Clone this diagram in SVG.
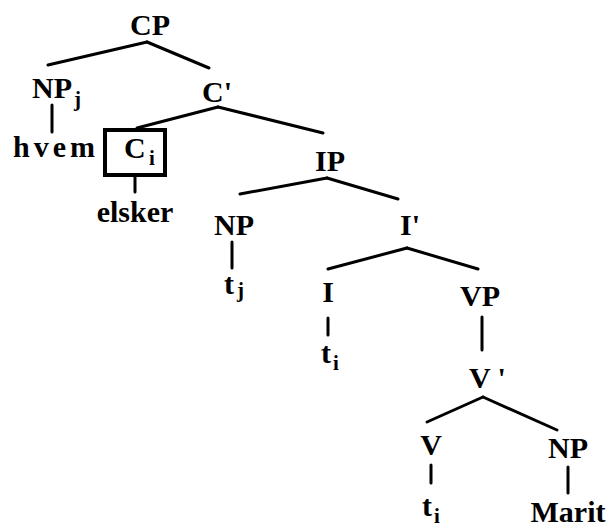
<svg xmlns="http://www.w3.org/2000/svg" width="611" height="530" viewBox="0 0 611 530">
<style>
text{font-family:"Liberation Serif","Times New Roman",serif;font-weight:bold;font-size:30px;fill:#000}
.sub{font-size:21px}
.c{text-anchor:middle}
#edges line{stroke:#000;stroke-width:3;stroke-linecap:round}
</style>
<rect width="611" height="530" fill="#fff"/>
<g id="edges">
<line x1="147" y1="42" x2="48" y2="65"/>
<line x1="147" y1="42" x2="209" y2="68"/>
<line x1="52" y1="105" x2="52" y2="132"/>
<line x1="218" y1="107" x2="137" y2="128"/>
<line x1="218" y1="107" x2="323" y2="133"/>
<line x1="135" y1="177" x2="135" y2="192"/>
<line x1="327" y1="178" x2="240" y2="194"/>
<line x1="327" y1="178" x2="398" y2="199"/>
<line x1="232" y1="242" x2="232" y2="268"/>
<line x1="407" y1="248" x2="328" y2="269"/>
<line x1="407" y1="248" x2="478" y2="269"/>
<line x1="328" y1="318" x2="328" y2="335"/>
<line x1="482" y1="317" x2="482" y2="350"/>
<line x1="483" y1="397" x2="427" y2="422"/>
<line x1="483" y1="397" x2="557" y2="430"/>
<line x1="431" y1="465" x2="431" y2="483"/>
<line x1="568" y1="467" x2="568" y2="493"/>
</g>
<g id="CP"><text class="c" x="150" y="35">CP</text></g>
<g id="NPj"><text x="32" y="98">NP</text><text class="sub" x="74" y="106">j</text></g>
<g id="hvem"><text x="13" y="157" textLength="82" lengthAdjust="spacing">hvem</text></g>
<g id="Cbar"><text x="202" y="102">C'</text></g>
<g id="Ci"><rect x="105" y="130" width="60" height="45" fill="none" stroke="#000" stroke-width="4"/><text x="124" y="158">C</text><text class="sub" x="149" y="165">i</text></g>
<g id="elsker"><text class="c" x="135" y="222">elsker</text></g>
<g id="IP"><text class="c" x="330" y="171">IP</text></g>
<g id="NP1"><text class="c" x="234" y="235">NP</text></g>
<g id="tj"><text x="224" y="294">t</text><text class="sub" x="237" y="297">j</text></g>
<g id="Ibar"><text x="400" y="235">I'</text></g>
<g id="I"><text class="c" x="328" y="302">I</text></g>
<g id="ti1"><text x="321" y="363">t</text><text class="sub" x="333" y="370">i</text></g>
<g id="VP"><text class="c" x="480" y="306">VP</text></g>
<g id="Vbar"><text x="469" y="388">V '</text></g>
<g id="V"><text class="c" x="431" y="455">V</text></g>
<g id="ti2"><text x="422" y="516">t</text><text class="sub" x="434" y="523">i</text></g>
<g id="NP2"><text class="c" x="568" y="458">NP</text></g>
<g id="Marit"><text class="c" x="568" y="522">Marit</text></g>
</svg>
